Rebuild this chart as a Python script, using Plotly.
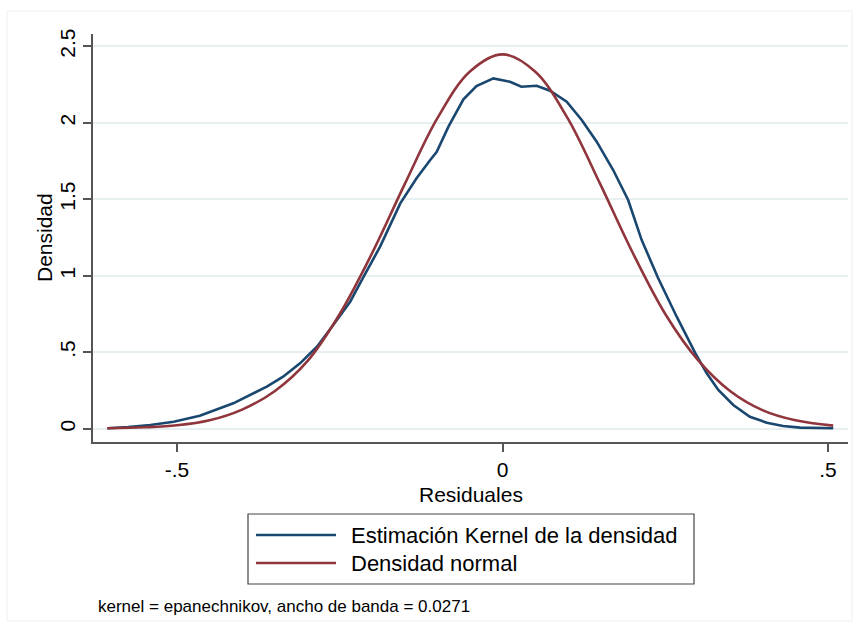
import plotly.graph_objects as go

# ---- data ----
kernel_x = [-0.607, -0.575, -0.541, -0.505, -0.465, -0.4135, -0.362, -0.337, -0.311, -0.285,
            -0.260, -0.234, -0.216, -0.188, -0.157, -0.132, -0.111, -0.101, -0.083, -0.060,
            -0.040, -0.014, 0.0115, 0.029, 0.0525, 0.073, 0.0986, 0.1217, 0.1447, 0.170,
            0.193, 0.2138, 0.239, 0.2676, 0.2957, 0.3137, 0.3315, 0.3545, 0.380, 0.406,
            0.431, 0.457, 0.508]
kernel_y = [0.003, 0.010, 0.024, 0.045, 0.085, 0.166, 0.275, 0.34, 0.427, 0.536,
            0.678, 0.83, 0.972, 1.19, 1.473, 1.637, 1.756, 1.81, 1.974, 2.153,
            2.24, 2.29, 2.268, 2.235, 2.242, 2.209, 2.137, 2.018, 1.876, 1.691,
            1.495, 1.233, 0.985, 0.732, 0.497, 0.362, 0.253, 0.155, 0.078, 0.039,
            0.018, 0.007, 0.003]

normal_x = [-0.607, -0.55, -0.50, -0.45, -0.40, -0.35, -0.30, -0.25, -0.20, -0.15, -0.10, -0.05,
            0.00, 0.05, 0.10, 0.15, 0.20, 0.25, 0.30, 0.35, 0.40, 0.45, 0.508]
normal_y = [0.003, 0.009, 0.022, 0.055, 0.125, 0.245, 0.44, 0.75, 1.15, 1.60, 2.03, 2.335,
            2.447, 2.335, 2.03, 1.60, 1.15, 0.75, 0.45, 0.245, 0.12, 0.055, 0.02]

x_tickvals = [-0.5, 0, 0.5]
x_ticktext = ["-.5", "0", ".5"]
y_tickvals = [0, 0.5, 1, 1.5, 2, 2.5]
y_ticktext = ["0", ".5", "1", "1.5", "2", "2.5"]

series_names = ["Estimación Kernel de la densidad", "Densidad normal"]
x_title = "Residuales"
y_title = "Densidad"
note_text = "kernel = epanechnikov, ancho de banda = 0.0271"

# ---- styling ----
BLUE = "#1a476f"
RED = "#90353b"
AXIS = "#555555"
GRID = "#e8eff0"
FONT = "Liberation Sans, Arial, sans-serif"

W, H = 854, 630
L, R, T, B = 93, 6, 34, 188
PW, PH = W - L - R, H - T - B


def px(xp):
    return (xp - L) / PW


def py(yp):
    return (H - B - yp) / PH


fig = go.Figure()
fig.add_trace(go.Scatter(x=kernel_x, y=kernel_y, mode="lines", name=series_names[0],
                         line=dict(color=BLUE, width=2.6), showlegend=False))
fig.add_trace(go.Scatter(x=normal_x, y=normal_y, mode="lines", name=series_names[1],
                         line=dict(color=RED, width=2.6, shape="spline", smoothing=1.0),
                         showlegend=False))

fig.update_layout(
    width=W, height=H,
    margin=dict(l=L, r=R, t=T, b=B, pad=0),
    paper_bgcolor="white", plot_bgcolor="white",
    font=dict(family=FONT, color="black"),
    xaxis=dict(range=[-0.629, 0.5307], tickvals=x_tickvals, ticktext=x_ticktext,
               showgrid=False, zeroline=False, showline=True, linecolor=AXIS, linewidth=1.5,
               ticks="outside", ticklen=8, tickwidth=1.5, tickcolor=AXIS,
               tickfont=dict(size=21, family=FONT, color="black")),
    yaxis=dict(range=[-0.087, 2.58], tickvals=y_tickvals, ticktext=y_ticktext,
               tickangle=-90, showgrid=True, gridcolor=GRID, gridwidth=1.5,
               zeroline=False, showline=True, linecolor=AXIS, linewidth=1.5,
               ticks="outside", ticklen=8, tickwidth=1.5, tickcolor=AXIS,
               tickfont=dict(size=21, family=FONT, color="black")),
)

shapes = []
# outer faint frame
shapes.append(dict(type="rect", xref="paper", yref="paper",
                   x0=px(7), x1=px(852), y0=py(621), y1=py(11),
                   line=dict(color="#efefef", width=1), layer="below"))
# legend box
shapes.append(dict(type="rect", xref="paper", yref="paper",
                   x0=px(248), x1=px(694), y0=py(584), y1=py(514),
                   line=dict(color="#444444", width=1.2), fillcolor="white"))
shapes.append(dict(type="line", xref="paper", yref="paper",
                   x0=px(256), x1=px(336), y0=py(535), y1=py(535),
                   line=dict(color=BLUE, width=2.6)))
shapes.append(dict(type="line", xref="paper", yref="paper",
                   x0=px(256), x1=px(336), y0=py(563), y1=py(563),
                   line=dict(color=RED, width=2.6)))
fig.update_layout(shapes=shapes)

ann = []
ann.append(dict(text=series_names[0], xref="paper", yref="paper", x=px(349), y=py(535),
                xanchor="left", yanchor="middle", showarrow=False,
                font=dict(size=22, family=FONT, color="black")))
ann.append(dict(text=series_names[1], xref="paper", yref="paper", x=px(349), y=py(563),
                xanchor="left", yanchor="middle", showarrow=False,
                font=dict(size=22, family=FONT, color="black")))
ann.append(dict(text=x_title, xref="paper", yref="paper", x=0.5, y=py(494),
                xanchor="center", yanchor="middle", showarrow=False,
                font=dict(size=21, family=FONT, color="black")))
ann.append(dict(text=y_title, xref="paper", yref="paper", x=px(44), y=0.5, textangle=-90,
                xanchor="center", yanchor="middle", showarrow=False,
                font=dict(size=21, family=FONT, color="black")))
ann.append(dict(text=note_text, xref="paper", yref="paper", x=px(96), y=py(606),
                xanchor="left", yanchor="middle", showarrow=False,
                font=dict(size=17, family=FONT, color="black")))
fig.update_layout(annotations=ann)

fig.write_html("out.html", config={"displayModeBar": False},
               post_script="document.body.style.margin='0';document.body.style.padding='0';")
